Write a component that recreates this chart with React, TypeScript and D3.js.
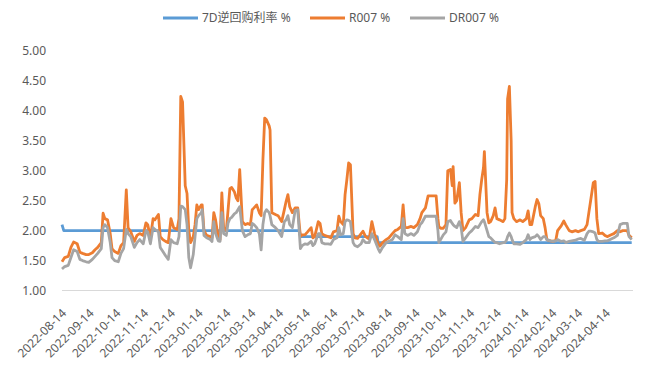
import * as d3 from "d3";

const parse = d3.timeParse("%Y-%m-%d");

// 7D reverse repo policy rate (step series)
const policyDates = ["2022-08-14", "2022-08-16", "2023-05-07", "2023-05-08", "2023-08-02", "2023-08-03", "2024-05-13"];
const policyRates = [2.1, 2.0, 2.0, 1.9, 1.9, 1.8, 1.8];

const dates = [
  "2022-08-14", "2022-08-17", "2022-08-21", "2022-08-24", "2022-08-27", "2022-08-31", "2022-09-03", "2022-09-06",
  "2022-09-10", "2022-09-13", "2022-09-17", "2022-09-20", "2022-09-23", "2022-09-27", "2022-09-29", "2022-10-01",
  "2022-10-04", "2022-10-07", "2022-10-09", "2022-10-12", "2022-10-16", "2022-10-19", "2022-10-22", "2022-10-25",
  "2022-10-27", "2022-10-30", "2022-11-03", "2022-11-06", "2022-11-09", "2022-11-13", "2022-11-16", "2022-11-18",
  "2022-11-21", "2022-11-24", "2022-11-26", "2022-11-30", "2022-12-02", "2022-12-05", "2022-12-08", "2022-12-11",
  "2022-12-14", "2022-12-17", "2022-12-21", "2022-12-23", "2022-12-25", "2022-12-27", "2022-12-30", "2023-01-01",
  "2023-01-03", "2023-01-05", "2023-01-08", "2023-01-10", "2023-01-12", "2023-01-14", "2023-01-17", "2023-01-18",
  "2023-01-20", "2023-01-23", "2023-01-27", "2023-01-29", "2023-01-31", "2023-02-02", "2023-02-05", "2023-02-07",
  "2023-02-09", "2023-02-11", "2023-02-14", "2023-02-16", "2023-02-18", "2023-02-20", "2023-02-23", "2023-02-25",
  "2023-02-27", "2023-03-01", "2023-03-04", "2023-03-07", "2023-03-10", "2023-03-13", "2023-03-15", "2023-03-17",
  "2023-03-20", "2023-03-23", "2023-03-25", "2023-03-27", "2023-03-29", "2023-03-31", "2023-04-03", "2023-04-04",
  "2023-04-06", "2023-04-10", "2023-04-13", "2023-04-15", "2023-04-17", "2023-04-20", "2023-04-22", "2023-04-24",
  "2023-04-26", "2023-04-29", "2023-05-02", "2023-05-05", "2023-05-08", "2023-05-10", "2023-05-13", "2023-05-16",
  "2023-05-20", "2023-05-22", "2023-05-24", "2023-05-28", "2023-05-30", "2023-06-01", "2023-06-04", "2023-06-08",
  "2023-06-11", "2023-06-14", "2023-06-18", "2023-06-20", "2023-06-22", "2023-06-25", "2023-06-27", "2023-06-29",
  "2023-07-01", "2023-07-03", "2023-07-06", "2023-07-08", "2023-07-11", "2023-07-15", "2023-07-17", "2023-07-20",
  "2023-07-24", "2023-07-27", "2023-07-30", "2023-08-03", "2023-08-05", "2023-08-08", "2023-08-12", "2023-08-15",
  "2023-08-19", "2023-08-22", "2023-08-25", "2023-08-29", "2023-08-31", "2023-09-02", "2023-09-05", "2023-09-09",
  "2023-09-12", "2023-09-16", "2023-09-19", "2023-09-21", "2023-09-25", "2023-09-28", "2023-10-02", "2023-10-07",
  "2023-10-09", "2023-10-10", "2023-10-12", "2023-10-15", "2023-10-18", "2023-10-20", "2023-10-23", "2023-10-25",
  "2023-10-26", "2023-10-28", "2023-10-30", "2023-11-02", "2023-11-04", "2023-11-06", "2023-11-09", "2023-11-13",
  "2023-11-16", "2023-11-20", "2023-11-23", "2023-11-25", "2023-11-27", "2023-11-29", "2023-11-30", "2023-12-03",
  "2023-12-05", "2023-12-07", "2023-12-10", "2023-12-12", "2023-12-14", "2023-12-17", "2023-12-21", "2023-12-23",
  "2023-12-25", "2023-12-26", "2023-12-28", "2023-12-30", "2023-12-31", "2024-01-02", "2024-01-05", "2024-01-09",
  "2024-01-12", "2024-01-16", "2024-01-18", "2024-01-20", "2024-01-22", "2024-01-26", "2024-01-28", "2024-01-30",
  "2024-02-01", "2024-02-04", "2024-02-06", "2024-02-08", "2024-02-12", "2024-02-15", "2024-02-18", "2024-02-20",
  "2024-02-24", "2024-02-27", "2024-02-29", "2024-03-04", "2024-03-07", "2024-03-11", "2024-03-14", "2024-03-17",
  "2024-03-21", "2024-03-24", "2024-03-26", "2024-03-28", "2024-03-31", "2024-04-02", "2024-04-04", "2024-04-06",
  "2024-04-10", "2024-04-13", "2024-04-16", "2024-04-20", "2024-04-23", "2024-04-27", "2024-04-30", "2024-05-03",
  "2024-05-08", "2024-05-10", "2024-05-13",
];

const r007 = [
  1.48, 1.55, 1.57, 1.72, 1.81, 1.78, 1.64, 1.62,
  1.6, 1.6, 1.63, 1.68, 1.72, 1.8, 2.29, 2.2,
  2.18, 1.95, 1.7, 1.65, 1.62, 1.75, 1.8, 2.68,
  2.05, 1.98, 1.82, 1.92, 1.95, 1.92, 2.13, 2.1,
  1.88, 2.2, 2.18, 2.27, 1.9, 1.85, 1.82, 1.8,
  2.2, 2.05, 2.02, 2.2, 4.24, 4.15, 2.75, 2.62,
  2.0, 1.8, 1.9, 2.1, 2.43, 2.35, 2.43, 2.43,
  2.0, 1.92, 1.9, 1.88, 2.3, 2.18, 1.88, 1.85,
  2.63, 2.05, 2.0, 2.35, 2.7, 2.72, 2.65, 2.55,
  2.5, 3.02, 2.15, 2.1, 2.12, 2.1, 2.35, 2.38,
  2.43, 2.3, 2.25, 3.18, 3.88, 3.85, 3.75, 3.68,
  2.3, 2.27, 2.25, 2.2, 2.15, 2.35, 2.49, 2.6,
  2.4, 2.3, 2.38, 2.38, 1.9, 1.93, 1.93, 1.98,
  2.05, 1.88, 1.9, 2.15, 2.12, 1.95, 1.92, 1.9,
  1.88, 1.98, 2.0, 2.24, 2.15, 2.1, 2.6, 2.85,
  3.13, 3.1, 1.95, 1.88, 1.87, 1.95, 1.99, 1.9,
  1.86, 2.15, 1.95, 1.78, 1.74, 1.8, 1.85, 1.88,
  1.95, 2.0, 2.02, 2.07, 2.43, 2.05, 2.05, 2.07,
  2.05, 2.1, 2.2, 2.3, 2.38, 2.58, 2.58, 2.58,
  2.2, 2.07, 2.04, 2.04, 2.1, 3.0, 3.02, 2.75,
  3.07, 2.46, 2.5, 2.8, 2.3, 2.0, 2.05, 2.18,
  2.2, 2.27, 2.25, 2.6, 2.85, 3.05, 3.32, 2.3,
  2.13, 2.15, 2.25, 2.38, 2.2, 2.18, 2.15, 2.2,
  2.85, 4.2, 4.41, 3.5, 2.3, 2.2, 2.15, 2.18,
  2.15, 2.2, 2.33, 2.1, 2.1, 2.4, 2.52, 2.45,
  2.25, 2.2, 2.05, 1.85, 1.83, 1.82, 1.84, 2.0,
  2.08, 2.16, 2.1, 2.0, 1.98, 2.0, 1.98, 2.0,
  2.02, 2.1, 2.3, 2.5, 2.8, 2.82, 2.2, 1.95,
  1.96, 1.92, 1.9, 1.93, 1.95, 2.0, 1.98, 2.0,
  2.0, 1.92, 1.88,
];

const dr007 = [
  1.36, 1.4, 1.42, 1.55, 1.68, 1.65, 1.52, 1.5,
  1.48, 1.47, 1.52, 1.57, 1.62, 1.7, 2.05, 2.1,
  2.05, 1.8, 1.55, 1.5, 1.48, 1.62, 1.7, 2.02,
  1.95, 1.9, 1.72, 1.8, 1.85, 1.78, 2.0, 1.98,
  1.78, 2.05, 2.02, 1.98, 1.72, 1.65, 1.58, 1.52,
  1.85, 1.8, 1.78, 1.9, 2.41, 2.4, 2.35, 2.1,
  1.55, 1.38, 1.6, 1.9, 2.2, 2.25, 2.3, 2.35,
  1.92, 1.88, 1.85, 1.82, 2.15, 1.95, 1.83, 1.82,
  2.3, 1.95, 1.92, 2.13, 2.2, 2.22, 2.28, 2.3,
  2.35, 2.4, 2.0, 1.9, 1.93, 1.95, 2.12, 2.1,
  2.05, 1.95, 1.68, 2.1, 2.3, 2.35, 2.3, 2.25,
  2.1, 2.05, 2.0, 1.95, 1.9, 2.15, 2.18, 2.25,
  2.1, 2.05, 2.33, 2.35, 1.7, 1.75, 1.78, 1.77,
  1.82, 1.75, 1.78, 1.95, 1.95, 1.8, 1.78, 1.78,
  1.77, 1.85, 1.88, 2.05, 1.93, 1.95, 2.15, 2.18,
  2.17, 2.15, 1.8, 1.75, 1.73, 1.78, 1.85, 1.8,
  1.8, 1.95, 1.85, 1.7, 1.64, 1.72, 1.8, 1.82,
  1.85, 1.93, 1.9, 1.85, 2.2, 1.95, 1.92, 1.95,
  1.92, 1.98, 2.1, 2.13, 2.24, 2.24, 2.24, 2.24,
  2.0, 1.8, 1.85, 1.93, 1.98, 2.15, 2.17, 2.12,
  2.1, 2.07, 2.05, 2.15, 2.05, 1.82, 1.88, 1.96,
  2.0, 2.07, 2.05, 2.1, 2.15, 2.18, 2.15, 2.0,
  1.9, 1.88, 1.83, 1.8, 1.8, 1.78, 1.8, 1.8,
  1.85, 1.9, 1.96, 1.9, 1.85, 1.78, 1.78, 1.77,
  1.8, 1.85, 1.93, 1.85, 1.88, 1.9, 1.93, 1.9,
  1.85, 1.9, 1.9, 1.85, 1.83, 1.82, 1.83, 1.85,
  1.82, 1.83, 1.8, 1.82, 1.83, 1.84, 1.86, 1.87,
  1.84, 1.95, 1.99, 1.99, 1.98, 1.96, 1.85, 1.82,
  1.82, 1.83, 1.83, 1.86, 1.88, 1.92, 2.1, 2.12,
  2.12, 1.9, 1.85,
];

const xTickLabels = [
  "2022-08-14", "2022-09-14", "2022-10-14", "2022-11-14", "2022-12-14", "2023-01-14", "2023-02-14",
  "2023-03-14", "2023-04-14", "2023-05-14", "2023-06-14", "2023-07-14", "2023-08-14", "2023-09-14",
  "2023-10-14", "2023-11-14", "2023-12-14", "2024-01-14", "2024-02-14", "2024-03-14", "2024-04-14",
];
const yTicks = [1, 1.5, 2, 2.5, 3, 3.5, 4, 4.5, 5];

const seriesNames = ["7D逆回购利率 %", "R007 %", "DR007 %"];
const colors = ["#5B9BD5", "#ED7D31", "#A5A5A5"];

const FONT = "'Noto Sans', 'Noto Sans CJK SC', sans-serif";
const TEXT = "#595959";

type Pt = { date: Date; value: number };

export default function App() {
  const width = 660;
  const height = 367;

  const x = d3
    .scaleTime()
    .domain([parse("2022-08-14")!, parse("2024-05-14")!])
    .range([62, 632.6]);
  const y = d3.scaleLinear().domain([1, 5]).range([290.5, 51]);

  const line = d3
    .line<Pt>()
    .x((d) => x(d.date))
    .y((d) => y(d.value));

  const policy: Pt[] = policyDates.map((d, i) => ({ date: parse(d)!, value: policyRates[i] }));
  const rSeries: Pt[] = dates.map((d, i) => ({ date: parse(d)!, value: r007[i] }));
  const drSeries: Pt[] = dates.map((d, i) => ({ date: parse(d)!, value: dr007[i] }));
  const allSeries = [policy, rSeries, drSeries];

  const legendX = [163, 310, 410];

  return (
    <svg
      width={width}
      height={height}
      style={{ position: "absolute", left: 0, top: 0, background: "#fff" }}
      fontFamily={FONT}
    >
      {/* baseline */}
      <line x1={62} x2={633} y1={y(1)} y2={y(1)} stroke="#D9D9D9" strokeWidth={1} />

      {/* y labels */}
      {yTicks.map((t) => (
        <text key={t} x={46} y={y(t)} dy="0.35em" textAnchor="end" fontSize={12} fill={TEXT}>
          {t.toFixed(2)}
        </text>
      ))}

      {/* x labels */}
      {xTickLabels.map((s) => {
        const tx = x(parse(s)!);
        return (
          <text
            key={s}
            transform={`translate(${tx + 5},${314}) rotate(-45)`}
            textAnchor="end"
            fontSize={12}
            fill={TEXT}
          >
            {s}
          </text>
        );
      })}

      {/* series */}
      {allSeries.map((s, i) => (
        <path
          key={i}
          d={line(s) ?? ""}
          fill="none"
          stroke={colors[i]}
          strokeWidth={2.8}
          strokeLinejoin="round"
        />
      ))}

      {/* legend */}
      {seriesNames.map((n, i) => (
        <g key={n}>
          <line x1={legendX[i]} x2={legendX[i] + 35} y1={18} y2={18} stroke={colors[i]} strokeWidth={2.8} />
          <text x={legendX[i] + 39} y={18} dy="0.35em" fontSize={12} fill={TEXT}>
            {n}
          </text>
        </g>
      ))}
    </svg>
  );
}
